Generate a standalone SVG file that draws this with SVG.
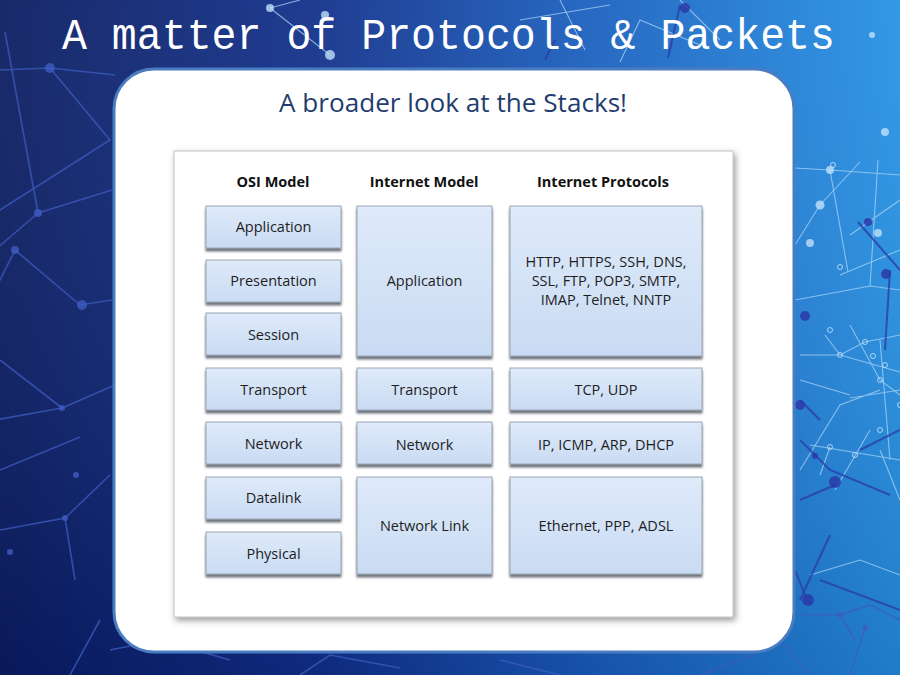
<svg xmlns="http://www.w3.org/2000/svg" width="900" height="675" viewBox="0 0 900 675">
  <defs>
    <linearGradient id="bg" x1="0" y1="0" x2="1" y2="0">
      <stop offset="0" stop-color="#0a1c60"/>
      <stop offset="0.35" stop-color="#11308a"/>
      <stop offset="0.65" stop-color="#1a5fbe"/>
      <stop offset="1" stop-color="#2592e4"/>
    </linearGradient>
    <linearGradient id="bgv" x1="0" y1="0" x2="0" y2="1">
      <stop offset="0" stop-color="#ffffff" stop-opacity="0.06"/>
      <stop offset="1" stop-color="#000030" stop-opacity="0.15"/>
    </linearGradient>
    <linearGradient id="box" x1="0" y1="0" x2="0" y2="1">
      <stop offset="0" stop-color="#dfeafa"/>
      <stop offset="1" stop-color="#c9dbf3"/>
    </linearGradient>
    <filter id="boxShadow" x="-10%" y="-10%" width="120%" height="130%">
      <feDropShadow dx="0" dy="3" stdDeviation="1.2" flood-color="#3c4450" flood-opacity="0.75"/>
    </filter>
    <filter id="panelShadow" x="-5%" y="-5%" width="110%" height="110%">
      <feDropShadow dx="2" dy="3" stdDeviation="3" flood-color="#555" flood-opacity="0.6"/>
    </filter>
    <style>
      .net-dark { stroke: #3d5cc0; stroke-width: 1.6; fill: none; opacity: 0.75; }
      .dot-dark { fill: #3d5cc0; opacity: 0.8; }
      .net-light { stroke: #a8d4f6; stroke-width: 1.1; fill: none; opacity: 0.75; }
      .dot-light { fill: #bfe0fa; opacity: 0.8; }
      .dot-ring { fill: none; stroke: #c8e6fb; stroke-width: 1; opacity: 0.8; }
      .net-navy { stroke: #2a3ea8; stroke-width: 2; fill: none; opacity: 0.8; }
      .dot-navy { fill: #2c3aa8; opacity: 0.85; }
      .layer { fill: url(#box); stroke: #9aa6b6; stroke-width: 1; filter: url(#boxShadow); }
      .label { font-family: "Open Sans", "Noto Sans", "Liberation Sans", sans-serif; font-size: 14.5px; fill: #1e1e1e; text-anchor: middle; }
      .head { font-family: "Open Sans", "Noto Sans", "Liberation Sans", sans-serif; font-size: 14.5px; font-weight: bold; fill: #111; text-anchor: middle; }
    </style>
  </defs>

  <!-- background -->
  <rect width="900" height="675" fill="url(#bg)"/>
  <rect width="900" height="675" fill="url(#bgv)"/>

  <!-- network texture, left side -->
  <g>
    <path class="net-dark" d="M0 70 L50 68 L115 75 M50 68 L110 140 L0 210 M5 32 L38 213 L112 190 M38 213 L-5 250 M15 250 L80 305 L112 300 M15 250 L-5 290 M0 360 L62 408 L115 385 M62 408 L-5 420 M0 530 L65 518 L110 475 M65 518 L75 580 M0 470 L80 437 M70 675 L100 620"/>
    <circle class="dot-dark" cx="50" cy="68" r="5"/>
    <circle class="dot-dark" cx="38" cy="213" r="4"/>
    <circle class="dot-dark" cx="15" cy="250" r="4"/>
    <circle class="dot-dark" cx="82" cy="305" r="5"/>
    <circle class="dot-dark" cx="62" cy="408" r="3"/>
    <circle class="dot-dark" cx="65" cy="518" r="3"/>
    <circle class="dot-dark" cx="76" cy="475" r="3"/>
    <circle class="dot-dark" cx="10" cy="552" r="3"/>
    <path class="net-dark" d="M110 650 L160 640 L230 660 M300 675 L330 655 L400 668 M500 660 L560 675" opacity="0.5"/>
  </g>

  <!-- network texture, top -->
  <g>
    <path class="net-light" d="M270 8 L330 55 M270 8 L300 0 M560 0 L585 50 M520 20 L610 5 M620 62 L640 20 L700 45 M680 0 L720 40"/>
    <path class="net-navy" d="M680 5 L668 58 M545 60 L555 40"/>
    <circle class="dot-light" cx="270" cy="8" r="4"/>
    <circle class="dot-light" cx="325" cy="15" r="4"/>
    <circle class="dot-light" cx="330" cy="55" r="5"/>
    <circle class="dot-navy" cx="685" cy="8" r="5"/>
    <circle class="dot-light" cx="872" cy="35" r="3"/>
  </g>

  <!-- network texture, right side -->
  <g>
    <path class="net-light" d="M795 168 L830 170 L900 175 M795 245 L820 205 L860 162 M830 170 L848 272 M850 235 L900 200 M795 300 L870 286 L900 290 M870 286 L878 160 M840 275 L900 250 M800 355 L840 355 L865 342 L900 335 M850 325 L880 380 L900 395 M840 355 L900 372 M825 335 L840 355 M800 470 L840 405 L880 390 M850 398 L900 390 M810 445 L900 460 M835 490 L870 430 M880 450 L900 500 M830 447 L820 475 M800 380 L850 395 M810 575 L860 560 L900 575 M880 340 L890 460"/>
    <circle class="dot-light" cx="830" cy="170" r="4"/>
    <circle class="dot-light" cx="820" cy="205" r="4.5"/>
    <circle class="dot-light" cx="810" cy="243" r="4"/>
    <circle class="dot-light" cx="878" cy="233" r="4"/>
    <circle class="dot-light" cx="885" cy="132" r="4"/>
    <circle class="dot-ring" cx="840" cy="267" r="2.5"/>
    <circle class="dot-ring" cx="865" cy="342" r="2.5"/>
    <circle class="dot-ring" cx="840" cy="355" r="2.5"/>
    <circle class="dot-ring" cx="880" cy="380" r="2.5"/>
    <circle class="dot-ring" cx="830" cy="330" r="2.5"/>
    <circle class="dot-ring" cx="873" cy="356" r="2.5"/>
    <circle class="dot-ring" cx="885" cy="365" r="2.5"/>
    <circle class="dot-ring" cx="830" cy="447" r="2.5"/>
    <circle class="dot-ring" cx="900" cy="405" r="2.5"/>
    <circle class="dot-ring" cx="855" cy="455" r="2.5"/>
    <circle class="dot-ring" cx="880" cy="430" r="2.5"/>
    <circle class="dot-ring" cx="833" cy="165" r="2.5"/>
    <path class="net-navy" d="M858 222 L900 270 M890 270 L885 350 M800 400 L820 420 M800 440 L830 470 L890 495 M800 500 L835 485 M860 450 L900 430 M800 600 L830 535 M820 580 L900 610"/>
    <circle class="dot-navy" cx="868" cy="222" r="4"/>
    <circle class="dot-navy" cx="886" cy="274" r="5"/>
    <circle class="dot-navy" cx="805" cy="316" r="5"/>
    <circle class="dot-navy" cx="835" cy="482" r="6"/>
    <circle class="dot-navy" cx="800" cy="405" r="5"/>
    <circle class="dot-navy" cx="815" cy="456" r="3"/>
    <path class="net-navy" d="M795 570 L807 600" stroke-width="3"/>
    <circle class="dot-navy" cx="808" cy="600" r="6"/>
    <path class="net-dark" d="M800 615 L840 615 L870 605 L900 620 M840 615 L855 640 M865 628 L850 675 M780 640 L810 675 M700 675 L780 645" opacity="0.7"/>
    <circle class="dot-dark" cx="840" cy="615" r="3"/>
    <circle class="dot-dark" cx="865" cy="628" r="3"/>
  </g>

  <!-- title -->
  <text x="62" y="49" font-family="Liberation Mono, DejaVu Sans Mono, monospace" font-size="44" fill="#ffffff" textLength="773" lengthAdjust="spacingAndGlyphs">A matter of Protocols &amp; Packets</text>

  <!-- white panel -->
  <rect x="114" y="69" width="680" height="583" rx="40" ry="40" fill="#ffffff" stroke="#4a7cc2" stroke-width="3"/>
  <text x="453" y="112" font-family="Open Sans, Noto Sans, Liberation Sans, sans-serif" font-size="25" fill="#1f3d6e" text-anchor="middle" textLength="348" lengthAdjust="spacingAndGlyphs">A broader look at the Stacks!</text>

  <!-- stack figure frame -->
  <rect x="174" y="151" width="559" height="466" fill="#ffffff" stroke="#c4c4c4" stroke-width="1" filter="url(#panelShadow)"/>

  <!-- column headings -->
  <text class="head" x="273" y="187">OSI Model</text>
  <text class="head" x="424" y="187">Internet Model</text>
  <text class="head" x="603" y="187">Internet Protocols</text>

  <!-- OSI model layers -->
  <g id="osi-application"><rect class="layer" x="206" y="206" width="135" height="42"/><text class="label" x="273.5" y="232">Application</text></g>
  <g id="osi-presentation"><rect class="layer" x="206" y="260" width="135" height="42"/><text class="label" x="273.5" y="286">Presentation</text></g>
  <g id="osi-session"><rect class="layer" x="206" y="313" width="135" height="42"/><text class="label" x="273.5" y="340">Session</text></g>
  <g id="osi-transport"><rect class="layer" x="206" y="368" width="135" height="42"/><text class="label" x="273.5" y="395">Transport</text></g>
  <g id="osi-network"><rect class="layer" x="206" y="422" width="135" height="42"/><text class="label" x="273.5" y="449">Network</text></g>
  <g id="osi-datalink"><rect class="layer" x="206" y="477" width="135" height="42"/><text class="label" x="273.5" y="503">Datalink</text></g>
  <g id="osi-physical"><rect class="layer" x="206" y="532" width="135" height="42"/><text class="label" x="273.5" y="559">Physical</text></g>

  <!-- Internet model layers -->
  <g id="inet-application"><rect class="layer" x="357" y="206" width="135" height="150"/><text class="label" x="424.5" y="286">Application</text></g>
  <g id="inet-transport"><rect class="layer" x="357" y="368" width="135" height="42"/><text class="label" x="424.5" y="395">Transport</text></g>
  <g id="inet-network"><rect class="layer" x="357" y="422" width="135" height="42"/><text class="label" x="424.5" y="450">Network</text></g>
  <g id="inet-link"><rect class="layer" x="357" y="477" width="135" height="97"/><text class="label" x="424.5" y="531">Network Link</text></g>

  <!-- protocols per layer -->
  <g id="proto-application"><rect class="layer" x="510" y="206" width="192" height="150"/>
    <text class="label" x="606" y="267">HTTP, HTTPS, SSH, DNS,</text>
    <text class="label" x="606" y="286">SSL, FTP, POP3, SMTP,</text>
    <text class="label" x="606" y="305">IMAP, Telnet, NNTP</text>
  </g>
  <g id="proto-transport"><rect class="layer" x="510" y="368" width="192" height="42"/><text class="label" x="606" y="395">TCP, UDP</text></g>
  <g id="proto-network"><rect class="layer" x="510" y="422" width="192" height="42"/><text class="label" x="606" y="450">IP, ICMP, ARP, DHCP</text></g>
  <g id="proto-link"><rect class="layer" x="510" y="477" width="192" height="97"/><text class="label" x="606" y="531">Ethernet, PPP, ADSL</text></g>

  <!-- no connectors in this figure -->
  <g id="connectors"/>
</svg>
